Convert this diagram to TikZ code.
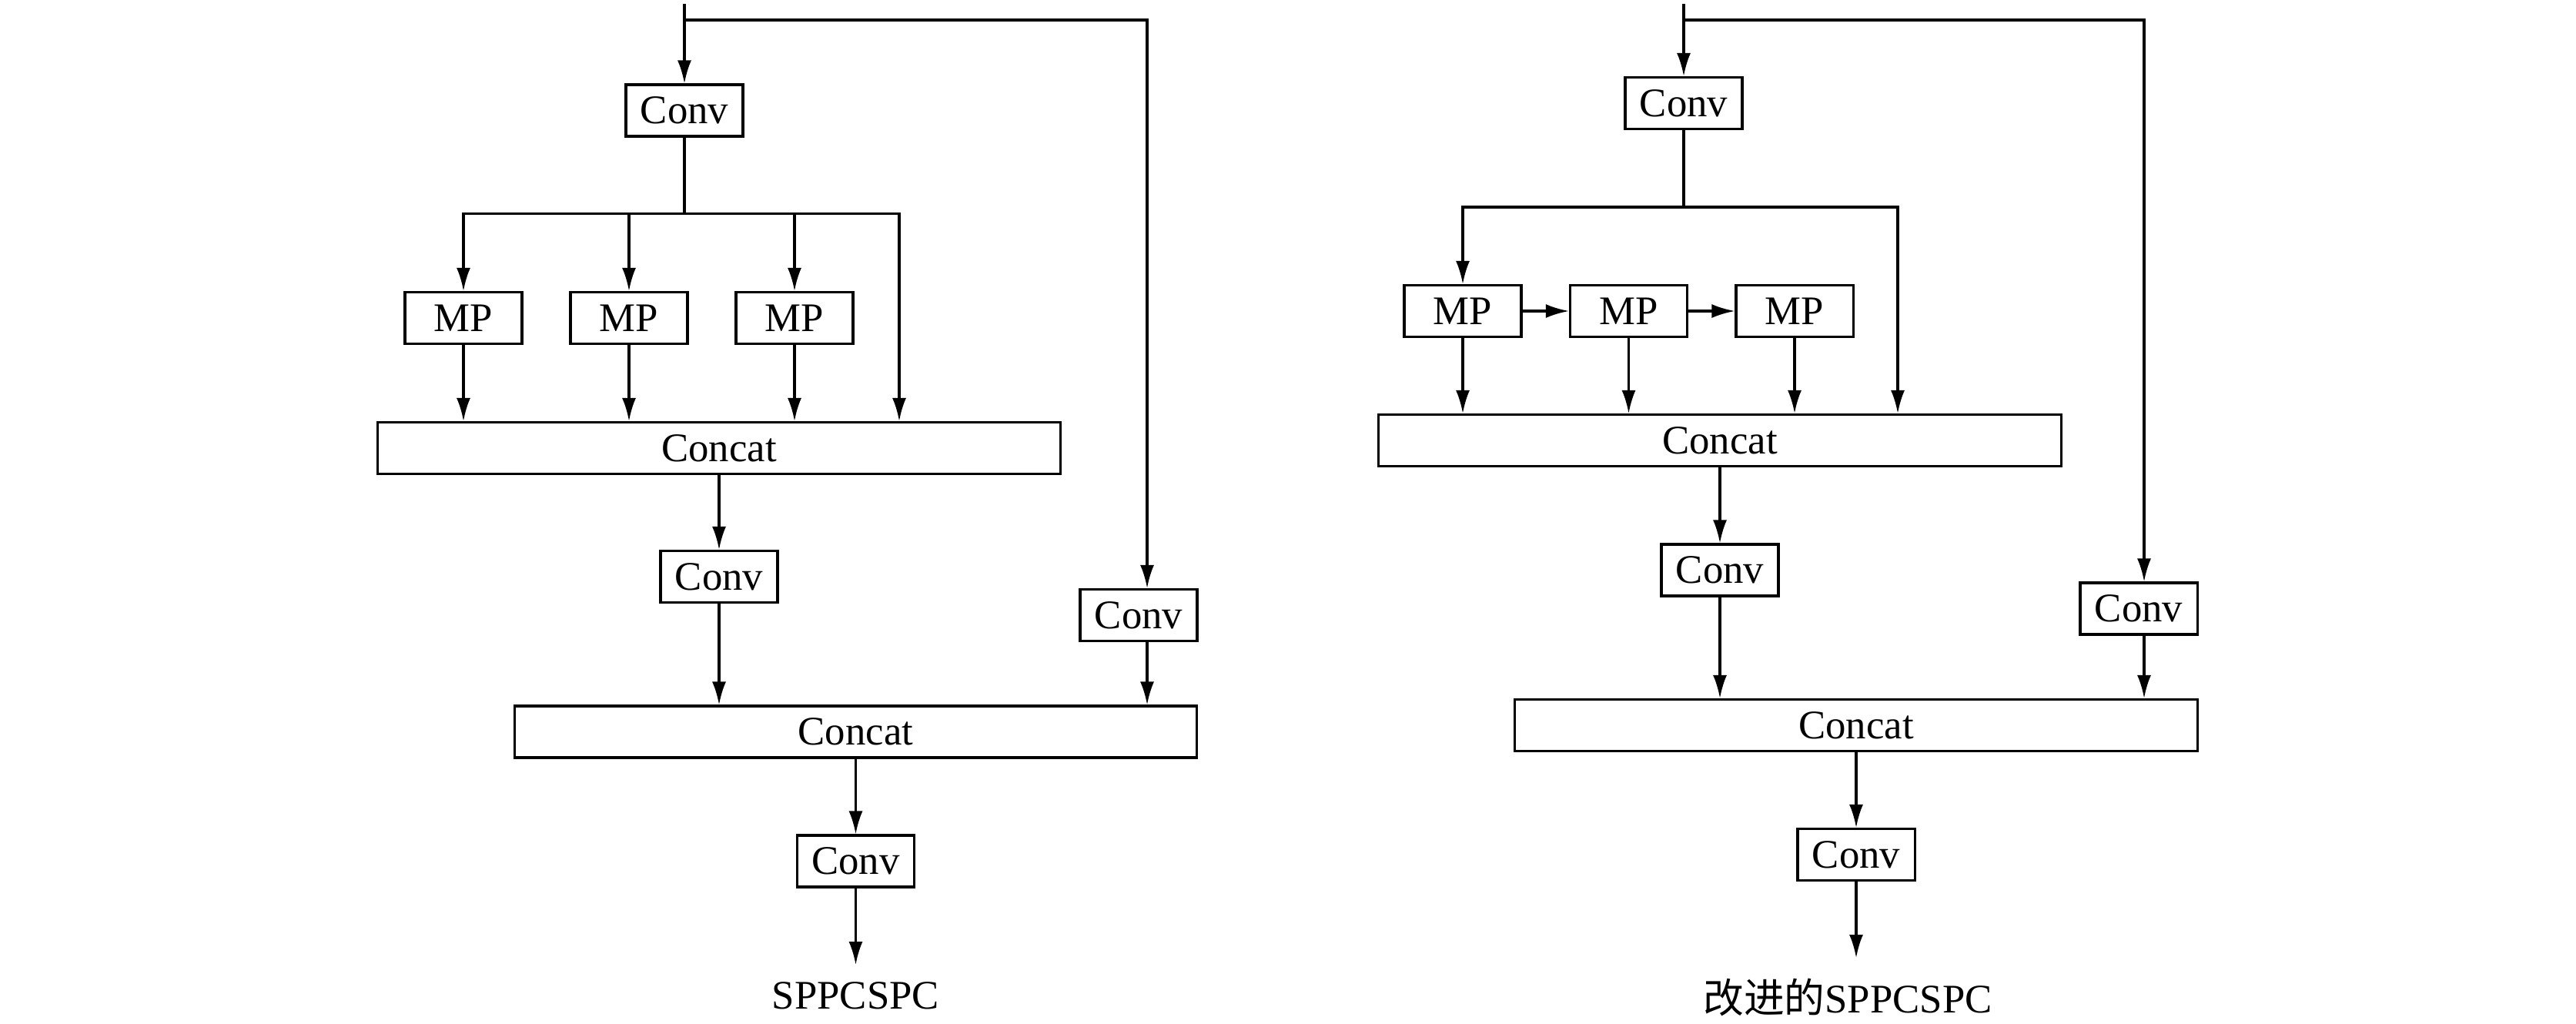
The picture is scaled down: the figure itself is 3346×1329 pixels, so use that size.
\documentclass[tikz,border=0pt]{standalone}
\usepackage{fontspec}
\setmainfont{Liberation Serif}
\newfontfamily\cjk{Noto Sans CJK SC}
\usepackage{tikz}
\usetikzlibrary{arrows.meta}

\begin{document}
\begin{tikzpicture}[x=0.01cm, y=-0.01cm, line width=0.9pt,
    >={Latex[length=3mm,width=1.8mm]},
    every node/.style={font=\fontsize{15}{18}\selectfont},
    block/.style={draw, line width=0.9pt, inner sep=0pt,
      minimum width=1.52cm, minimum height=0.67cm},
    wide/.style={block, minimum width=8.86cm}]
  \useasboundingbox (0,0) rectangle (3346,1329);

  % SPPCSPC
  \node [block] (1) at (889,143.5) {Conv};
  \node [block] (2) at (602,413) {MP};
  \node [block] (3) at (817,413) {MP};
  \node [block] (4) at (1032,413) {MP};
  \node [wide] (5) at (934,582) {Concat};
  \node [block] (6) at (934,749) {Conv};
  \node [block] (7) at (1479,799) {Conv};
  \node [wide] (8) at (1111.5,950.5) {Concat};
  \node [block] (9) at (1111.5,1118.5) {Conv};
  \node (10) at (1111.5,1293) {SPPCSPC};
  \coordinate (in1) at (889,5);
  \coordinate (sk1) at (889,26);
  \coordinate (rl1) at (1490,26);
  \coordinate (sp1) at (889,277.5);
  \coordinate (br1) at (1168,277.5);
  \coordinate (out1) at (1111.5,1253);
  \draw [->] (in1) -- (1);
  \draw [->] (sk1) -- (rl1) -- (7.north -| rl1);
  \draw (1) -- (sp1);
  \draw [->] (sp1) -| (2);
  \draw [->] (sp1) -| (3);
  \draw [->] (sp1) -| (4);
  \draw [->] (sp1) -- (br1) -- (5.north -| br1);
  \draw [->] (2) -- (5.north -| 2);
  \draw [->] (3) -- (5.north -| 3);
  \draw [->] (4) -- (5.north -| 4);
  \draw [->] (5) -- (6);
  \draw [->] (6) -- (8.north -| 6);
  \draw [->] (7.south -| rl1) -- (8.north -| rl1);
  \draw [->] (8) -- (9);
  \draw [->] (9) -- (out1);

  % improved SPPCSPC
  \node [block] (11) at (2187,134) {Conv};
  \node [block] (12) at (1900,404) {MP};
  \node [block] (13) at (2115.5,404) {MP};
  \node [block] (14) at (2331,404) {MP};
  \node [wide] (15) at (2234,572) {Concat};
  \node [block] (16) at (2234,740.5) {Conv};
  \node [block] (17) at (2778,790.5) {Conv};
  \node [wide] (18) at (2411,942) {Concat};
  \node [block] (19) at (2411,1110) {Conv};
  \node (20) at (2400,1295) {{\cjk 改进的}SPPCSPC};
  \coordinate (in2) at (2187,5);
  \coordinate (sk2) at (2187,26);
  \coordinate (rl2) at (2785,26);
  \coordinate (sp2) at (2187,269);
  \coordinate (br2) at (2465,269);
  \coordinate (out2) at (2411,1244);
  \draw [->] (in2) -- (11);
  \draw [->] (sk2) -- (rl2) -- (17.north -| rl2);
  \draw (11) -- (sp2);
  \draw [->] (sp2) -| (12);
  \draw [->] (sp2) -- (br2) -- (15.north -| br2);
  \draw [->] (12) -- (13);
  \draw [->] (13) -- (14);
  \draw [->] (12) -- (15.north -| 12);
  \draw [->] (13) -- (15.north -| 13);
  \draw [->] (14) -- (15.north -| 14);
  \draw [->] (15) -- (16);
  \draw [->] (16) -- (18.north -| 16);
  \draw [->] (17.south -| rl2) -- (18.north -| rl2);
  \draw [->] (18) -- (19);
  \draw [->] (19) -- (out2);
\end{tikzpicture}
\end{document}
